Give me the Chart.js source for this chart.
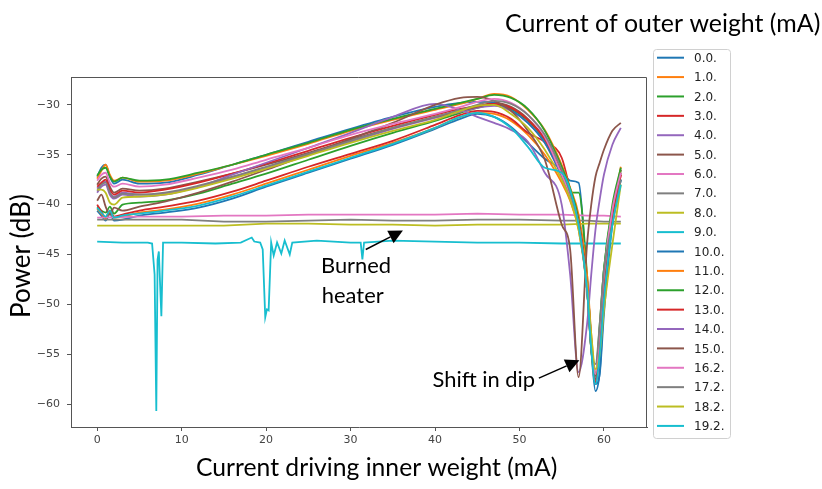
<!DOCTYPE html>
<html>
<head>
<meta charset="utf-8">
<script src="https://cdn.jsdelivr.net/npm/chart.js@4.4.0/dist/chart.umd.min.js"></script>
<style>
  html, body { margin: 0; padding: 0; background: #fff; }
  canvas { display: block; }
</style>
</head>
<body>
<canvas id="grafico" width="822" height="489"></canvas>
<script>
// legend labels (current of outer weight)
const outerLabels = ['0.0.', '1.0.', '2.0.', '3.0.', '4.0.', '5.0.', '6.0.', '7.0.', '8.0.', '9.0.',
  '10.0.', '11.0.', '12.0.', '13.0.', '14.0.', '15.0.', '16.2.', '17.2.', '18.2.', '19.2.'];

const xTicks = [0, 10, 20, 30, 40, 50, 60];
const yTicks = [-60, -55, -50, -45, -40, -35, -30];

// inner current (mA) for the sweeps that still work
const xGrid = [0, 0.5, 1, 1.5, 2, 3, 5, 8, 12, 16, 20, 25, 30, 35, 40, 43, 45, 47, 49, 51, 53, 55, 56, 57, 58, 58.5, 59, 59.5, 60, 61, 62];

const pw00 = [-40.6, -41.1, -41.6, -40.9, -41.6, -41.5, -41.1, -40.8, -40.3, -39.4, -38.2, -36.8, -35.4, -34.0, -32.4, -31.4, -30.9, -31.2, -32.2, -33.8, -35.4, -36.5, -37.6, -37.8, -48.0, -54.5, -58.7, -56.8, -50.0, -41.5, -37.5];
const pw01 = [-40.4, -40.9, -41.4, -40.7, -41.3, -41.2, -40.8, -40.5, -39.9, -39.0, -37.9, -36.5, -35.1, -33.8, -32.3, -31.2, -30.8, -30.9, -31.6, -33.0, -35.0, -37.8, -39.6, -42.5, -48.5, -54.5, -57.8, -54.5, -48.5, -41.0, -36.8];
const pw02 = [-40.2, -40.6, -40.8, -40.2, -40.9, -40.0, -39.8, -39.6, -38.9, -37.9, -36.9, -35.5, -34.1, -32.8, -31.6, -30.8, -30.3, -30.0, -30.4, -31.6, -33.6, -37.0, -38.8, -38.8, -47.0, -54.0, -57.2, -52.5, -46.5, -40.5, -36.5];
const pw03 = [-40.0, -40.7, -41.3, -40.6, -41.2, -41.0, -40.6, -40.2, -39.6, -38.7, -37.6, -36.2, -34.9, -33.6, -32.0, -31.0, -30.6, -30.7, -31.4, -32.8, -33.7, -35.3, -38.5, -41.8, -47.5, -53.5, -58.0, -54.5, -49.0, -41.5, -37.0];
const pw04 = [-38.4, -37.9, -37.7, -38.8, -39.2, -38.8, -39.0, -38.9, -38.2, -37.3, -36.3, -35.0, -33.7, -32.4, -31.3, -30.7, -30.3, -30.1, -30.6, -31.8, -33.8, -37.2, -39.2, -42.2, -48.5, -54.0, -57.5, -53.5, -48.0, -41.0, -36.8];
const pw05 = [-38.0, -37.4, -37.2, -38.2, -38.8, -38.4, -38.6, -38.4, -37.7, -36.9, -36.0, -34.8, -33.5, -32.3, -31.2, -30.6, -30.2, -29.8, -30.2, -31.4, -33.5, -37.0, -39.0, -42.0, -48.5, -54.5, -57.5, -53.0, -47.5, -40.8, -36.5];
const pw10 = [-37.2, -36.3, -36.0, -37.2, -37.9, -37.5, -37.9, -37.8, -37.0, -36.0, -35.0, -33.7, -32.4, -31.2, -30.2, -29.8, -29.7, -29.8, -30.5, -31.8, -33.8, -37.0, -38.8, -41.5, -47.5, -53.5, -58.0, -57.0, -51.0, -42.0, -37.5];
const pw11 = [-37.4, -36.6, -36.0, -37.0, -37.6, -37.3, -37.7, -37.6, -36.9, -36.0, -35.1, -33.9, -32.6, -31.5, -30.5, -29.9, -29.4, -28.9, -29.2, -30.5, -32.5, -36.0, -38.3, -41.0, -47.0, -53.0, -57.0, -53.5, -48.0, -41.0, -36.2];
const pw12 = [-37.1, -36.5, -36.3, -37.2, -37.7, -37.3, -37.6, -37.5, -36.8, -36.0, -35.0, -33.8, -32.5, -31.4, -30.4, -29.8, -29.4, -29.0, -29.3, -30.4, -32.6, -36.2, -38.4, -41.5, -48.5, -54.5, -57.0, -52.0, -46.5, -40.0, -36.3];
const pw13 = [-38.2, -37.8, -37.5, -38.5, -39.0, -38.6, -38.8, -38.5, -37.8, -36.9, -35.9, -34.6, -33.3, -32.1, -31.0, -30.4, -30.1, -29.9, -30.3, -31.5, -33.4, -36.8, -38.8, -41.8, -48.0, -54.0, -57.8, -54.0, -48.5, -41.5, -37.0];
const pw14 = [-38.8, -38.2, -38.0, -39.0, -39.4, -39.0, -39.2, -39.0, -38.2, -37.0, -35.8, -34.3, -32.8, -31.2, -29.9, -30.5, -31.2, -31.8, -32.5, -33.7, -36.8, -40.0, -47.0, -56.8, -52.0, -47.0, -42.5, -39.5, -37.0, -34.0, -32.3];
const pw15 = [-39.6, -39.0, -40.2, -41.0, -40.3, -40.6, -40.2, -39.7, -38.8, -37.7, -36.5, -35.0, -33.4, -31.8, -30.0, -29.3, -29.2, -29.6, -30.6, -32.6, -35.5, -42.0, -44.5, -57.3, -44.0, -40.0, -37.2, -35.8, -34.5, -32.6, -31.8];
const pw16 = [-37.6, -37.0, -36.8, -37.8, -38.2, -37.9, -38.2, -38.0, -37.3, -36.5, -35.5, -34.3, -33.0, -31.9, -30.9, -30.2, -29.7, -29.4, -29.8, -31.0, -33.2, -37.0, -39.0, -42.0, -48.5, -54.0, -57.0, -52.5, -47.0, -40.5, -36.8];
const pw17 = [-38.6, -38.0, -37.8, -38.8, -39.3, -38.9, -39.0, -38.8, -38.1, -37.2, -36.2, -34.9, -33.6, -32.3, -31.2, -30.5, -30.0, -29.6, -29.9, -31.0, -33.0, -36.5, -38.8, -42.0, -48.5, -54.5, -56.0, -52.0, -46.6, -42.0, -37.5];
const pw18 = [-38.5, -38.5, -38.8, -39.8, -40.0, -39.3, -39.2, -39.0, -38.3, -37.4, -36.4, -35.1, -33.8, -32.6, -31.5, -30.6, -30.1, -30.0, -30.9, -32.3, -34.5, -37.5, -39.5, -42.5, -48.0, -53.0, -56.5, -55.0, -50.6, -44.0, -38.0];
const pw19 = [-40.3, -40.8, -41.2, -40.6, -41.3, -41.1, -40.9, -40.6, -40.1, -39.2, -38.1, -36.7, -35.3, -33.9, -32.3, -31.2, -30.8, -31.2, -32.3, -34.2, -36.3, -36.8, -38.5, -42.0, -48.5, -54.5, -58.0, -55.0, -49.5, -42.0, -38.0];

// burned heater sweeps (flat)
const xFlat = [0, 5, 10, 15, 20, 25, 30, 35, 40, 45, 50, 55, 58, 60, 62];
const pw06 = [-41.3, -41.2, -41.2, -41.1, -41.1, -41.0, -41.0, -41.0, -41.0, -40.9, -41.0, -41.0, -41.1, -41.1, -41.2];
const pw07 = [-41.5, -41.5, -41.5, -41.7, -41.7, -41.6, -41.5, -41.6, -41.6, -41.5, -41.5, -41.6, -41.6, -41.7, -41.7];
const pw08 = [-42.1, -42.1, -42.1, -42.1, -41.9, -41.9, -42.0, -42.0, -42.1, -42.0, -42.0, -42.0, -41.9, -41.9, -41.9];

const xSpike = [0, 3, 6, 6.5, 6.8, 7.0, 7.15, 7.3, 7.45, 7.6, 7.8, 10, 14, 17, 18.3, 18.6, 19.3, 19.6, 19.9, 20.1,
  20.3, 20.6, 20.9, 21.3, 21.8, 22.2, 22.8, 23.1, 26, 30, 31.2, 31.4, 31.6, 35, 40, 45, 50, 55, 60, 62];
const pw09 = [-43.7, -43.8, -43.8, -43.9, -47.0, -60.7, -45.5, -44.7, -48.0, -51.2, -43.8, -43.8, -43.9, -43.8, -43.3, -43.7, -43.8, -44.5, -51.3, -50.5,
  -50.6, -43.8, -45.1, -43.8, -44.9, -43.6, -45.0, -43.8, -43.6, -43.8, -43.8, -45.5, -43.8, -43.6, -43.7, -43.8, -43.8, -43.9, -43.9, -43.9];

const tab10 = ['#1f77b4', '#ff7f0e', '#2ca02c', '#d62728', '#9467bd', '#8c564b', '#e377c2', '#7f7f7f', '#bcbd22', '#17becf'];

const series = [
  [xGrid, pw00], [xGrid, pw01], [xGrid, pw02], [xGrid, pw03], [xGrid, pw04], [xGrid, pw05],
  [xFlat, pw06], [xFlat, pw07], [xFlat, pw08], [xSpike, pw09],
  [xGrid, pw10], [xGrid, pw11], [xGrid, pw12], [xGrid, pw13], [xGrid, pw14], [xGrid, pw15],
  [xGrid, pw16], [xGrid, pw17], [xGrid, pw18], [xGrid, pw19]
];

const datasets = series.map((s, i) => ({
  label: outerLabels[i],
  data: s[0].map((xv, k) => ({ x: xv, y: s[1][k] })),
  borderColor: tab10[i % 10],
  borderWidth: 1.8,
  pointRadius: 0,
  tension: 0,
  cubicInterpolationMode: s[0] === xGrid ? 'monotone' : 'default',
  order: series.length - i
}));

const minus = v => String(v).replace('-', '\u2212');

function fitFont(ctx, text, width, family) {
  ctx.font = '100px ' + family;
  return 100 * width / ctx.measureText(text).width;
}

function arrow(ctx, x0, y0, x1, y1) {
  const ang = Math.atan2(y1 - y0, x1 - x0);
  const hl = 14, hw = 7;
  const bx = x1 - hl * Math.cos(ang), by = y1 - hl * Math.sin(ang);
  ctx.beginPath();
  ctx.moveTo(x0, y0);
  ctx.lineTo(bx, by);
  ctx.stroke();
  ctx.beginPath();
  ctx.moveTo(x1, y1);
  ctx.lineTo(bx + hw * Math.sin(ang), by - hw * Math.cos(ang));
  ctx.lineTo(bx - hw * Math.sin(ang), by + hw * Math.cos(ang));
  ctx.closePath();
  ctx.fill();
}

const extras = {
  id: 'extras',
  afterDraw(chart) {
    const { ctx, chartArea: a, scales: { x, y } } = chart;
    ctx.save();
    // top and right spines
    ctx.strokeStyle = '#555';
    ctx.lineWidth = 1;
    ctx.beginPath();
    ctx.moveTo(a.left, a.top + 0.5);
    ctx.lineTo(a.right - 0.5, a.top + 0.5);
    ctx.lineTo(a.right - 0.5, a.bottom);
    ctx.stroke();

    // titles
    const fam = 'Lato, "Open Sans", sans-serif';
    ctx.fillStyle = '#000';
    ctx.textBaseline = 'alphabetic';
    ctx.textAlign = 'left';
    let t = 'Current of outer weight (mA)';
    ctx.font = fitFont(ctx, t, 315, fam).toFixed(1) + 'px ' + fam;
    ctx.fillText(t, 505, 32);
    t = 'Current driving inner weight (mA)';
    ctx.font = fitFont(ctx, t, 362, fam).toFixed(1) + 'px ' + fam;
    ctx.fillText(t, 196, 476);
    t = 'Power (dB)';
    ctx.font = fitFont(ctx, t, 124, fam).toFixed(1) + 'px ' + fam;
    ctx.save();
    ctx.translate(30, 318);
    ctx.rotate(-Math.PI / 2);
    ctx.fillText(t, 0, 0);
    ctx.restore();

    // annotations
    ctx.font = fitFont(ctx, 'Burned', 70, fam).toFixed(1) + 'px ' + fam;
    ctx.fillText('Burned', x.getPixelForValue(26.5), y.getPixelForValue(-46.9));
    ctx.fillText('heater', x.getPixelForValue(26.6), y.getPixelForValue(-49.9));
    ctx.fillText('Shift in dip', x.getPixelForValue(39.7), y.getPixelForValue(-58.3));
    ctx.strokeStyle = '#000';
    ctx.lineWidth = 1.5;
    arrow(ctx, x.getPixelForValue(31.8), y.getPixelForValue(-44.5), x.getPixelForValue(36.2), y.getPixelForValue(-42.6));
    arrow(ctx, x.getPixelForValue(52.3), y.getPixelForValue(-57.4), x.getPixelForValue(57.1), y.getPixelForValue(-55.6));

    // legend
    const lx = 653.5, ly = 49.5, lw = 77, lh = 389;
    ctx.fillStyle = 'rgba(255,255,255,0.8)';
    ctx.strokeStyle = '#d0d0d0';
    ctx.lineWidth = 1;
    ctx.beginPath();
    ctx.roundRect(lx, ly, lw, lh, 3);
    ctx.fill();
    ctx.stroke();
    ctx.font = '12px "DejaVu Sans"';
    ctx.textBaseline = 'middle';
    chart.data.datasets.forEach((ds, i) => {
      const yy = 57.7 + i * 19.38;
      ctx.strokeStyle = ds.borderColor;
      ctx.lineWidth = 2;
      ctx.beginPath();
      ctx.moveTo(657, yy);
      ctx.lineTo(684, yy);
      ctx.stroke();
      ctx.fillStyle = '#222';
      ctx.fillText(ds.label, 694, yy + 1);
    });
    ctx.restore();
  }
};

new Chart(document.getElementById('grafico'), {
  type: 'line',
  data: { datasets: datasets },
  options: {
    responsive: false,
    animation: false,
    devicePixelRatio: 1,
    layout: { padding: { top: 77, right: 175, left: 0, bottom: 0 } },
    plugins: { legend: { display: false }, tooltip: { enabled: false } },
    scales: {
      x: {
        type: 'linear',
        min: -3.1,
        max: 65.1,
        afterBuildTicks: s => { s.ticks = xTicks.map(v => ({ value: v })); },
        afterFit: s => { s.height = 62; },
        grid: { drawOnChartArea: false, drawTicks: true, tickLength: 4, color: '#555' },
        border: { display: true, color: '#555' },
        ticks: { color: '#444', font: { family: 'DejaVu Sans', size: 11 }, padding: 3, maxRotation: 0, callback: v => minus(v) }
      },
      y: {
        type: 'linear',
        min: -62.3,
        max: -27.2,
        afterBuildTicks: s => { s.ticks = yTicks.map(v => ({ value: v })); },
        afterFit: s => { s.width = 71; },
        grid: { drawOnChartArea: false, drawTicks: true, tickLength: 4, color: '#555' },
        border: { display: true, color: '#555' },
        ticks: { color: '#444', font: { family: 'DejaVu Sans', size: 11 }, padding: 7, callback: v => minus(v) }
      }
    }
  },
  plugins: [extras]
});
</script>
</body>
</html>
